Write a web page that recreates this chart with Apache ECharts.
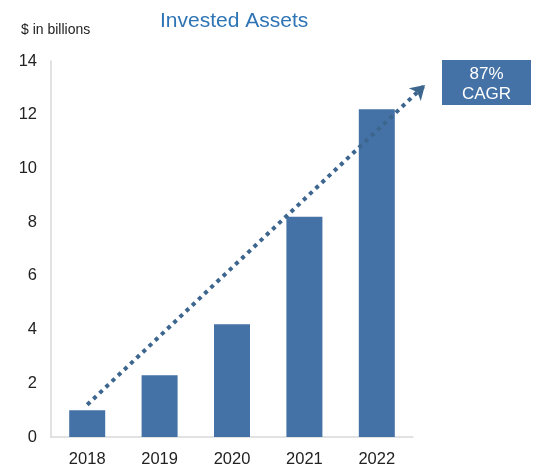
<!DOCTYPE html>
<html><head><meta charset="utf-8">
<script src="https://cdn.jsdelivr.net/npm/echarts@6/dist/echarts.min.js"></script>
<style>html,body{margin:0;padding:0;background:#fff}#c{width:536px;height:468px}</style>
</head><body><div id="c"></div>
<script>
const categories = ['2018','2019','2020','2021','2022'];
const values = [1.0, 2.3, 4.2, 8.2, 12.2];
const yTicks = {min: 0, max: 14, interval: 2};
const titleText = 'Invested Assets';
const unitText = '$ in billions';
const cagrText = '87%\nCAGR';
const arrowStart = {cat: '2018', value: 1.2};

const FONT = 'Liberation Sans, Arial, sans-serif';
const chart = echarts.init(document.getElementById('c'), null, {renderer: 'canvas'});
chart.setOption({
  animation: false,
  backgroundColor: '#fff',
  textStyle: {fontFamily: FONT},
  title: [{
    text: titleText, left: 155, top: 6,
    textStyle: {color: '#2f74b5', fontSize: 21, fontWeight: 'normal', fontFamily: FONT}
  }, {
    text: unitText, left: 16, top: 18,
    textStyle: {color: '#222', fontSize: 14, fontWeight: 'normal', fontFamily: FONT}
  }],
  grid: {left: 51, top: 61, right: 123, bottom: 29, containLabel: false},
  xAxis: {
    type: 'category', data: categories,
    axisLine: {lineStyle: {color: '#d9d9d9', width: 1.5}},
    axisTick: {show: false},
    axisLabel: {color: '#222', fontSize: 16.5, margin: 14}
  },
  yAxis: {
    type: 'value', min: yTicks.min, max: yTicks.max, interval: yTicks.interval,
    axisLine: {show: true, lineStyle: {color: '#d9d9d9', width: 1.5}},
    axisTick: {show: false},
    splitLine: {show: false},
    axisLabel: {color: '#222', fontSize: 16.5, margin: 14}
  },
  series: [{
    type: 'bar', data: values, barWidth: 36,
    itemStyle: {color: '#4472a6'},
    markLine: {
      silent: true,
      symbol: ['none', 'arrow'], symbolSize: [13, 14],
      label: {show: false},
      lineStyle: {color: '#3d668f', width: 4, type: [4, 4.5]},
      data: [[{xAxis: arrowStart.cat, yAxis: arrowStart.value}, {x: 425, y: 85}]]
    }
  }],
  graphic: [{
    type: 'rect', left: 442, top: 60, shape: {width: 89, height: 45},
    style: {fill: '#4472a6'},
    textContent: {
      style: {text: cagrText, fill: '#fff', fontSize: 17, lineHeight: 20, align: 'center', fontFamily: FONT}
    },
    textConfig: {position: 'inside', offset: [0, 2]}
  }]
});
</script></body></html>
